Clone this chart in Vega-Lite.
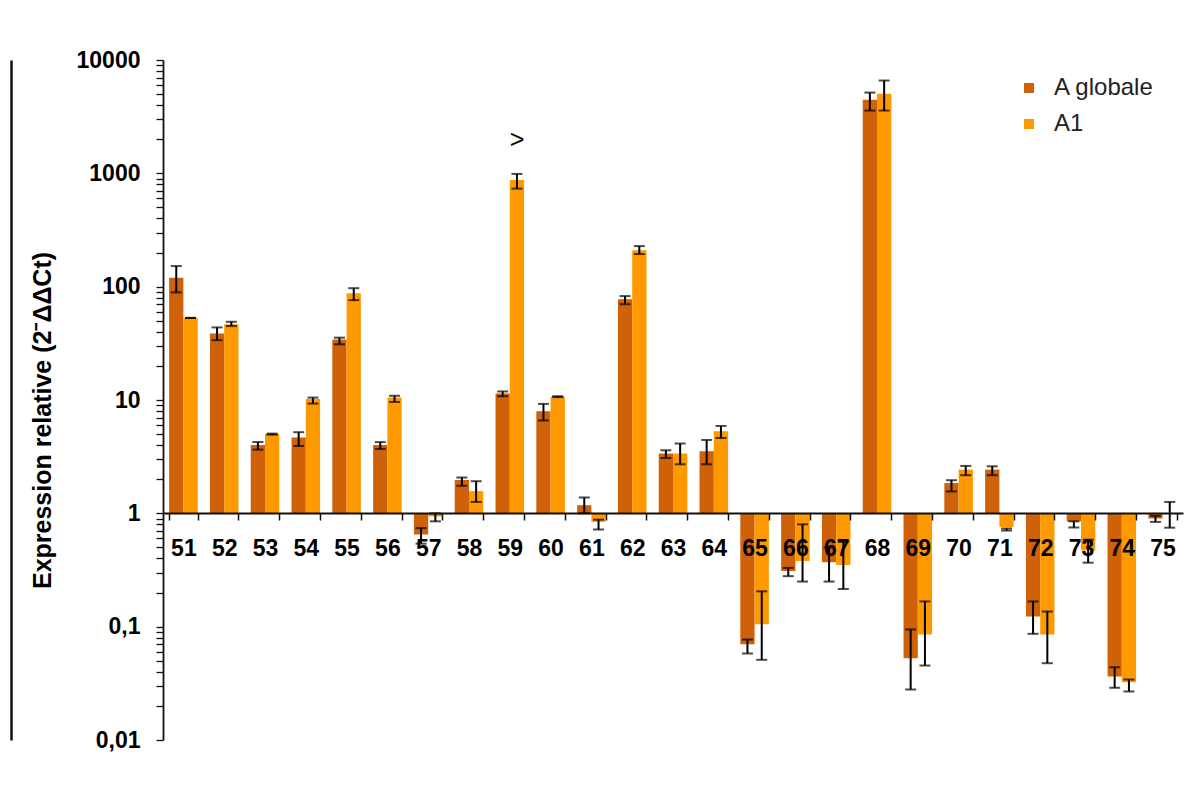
{
  "$schema": "https://vega.github.io/schema/vega-lite/v6.json",
  "autosize": {"type": "none"},
  "width": 1020,
  "height": 680,
  "padding": {"left": 163, "top": 60, "right": 5, "bottom": 47},
  "background": "white",
  "config": {
    "view": {"stroke": null},
    "font": "Liberation Sans"
  },
  "datasets": {
    "bars": [
      {"cat": "51", "series": "A globale", "value": 120, "lo": 89, "hi": 152},
      {"cat": "51", "series": "A1", "value": 53, "lo": 53, "hi": 53},
      {"cat": "52", "series": "A globale", "value": 38.7, "lo": 33.7, "hi": 43.7},
      {"cat": "52", "series": "A1", "value": 46.7, "lo": 44.9, "hi": 49},
      {"cat": "53", "series": "A globale", "value": 4.0, "lo": 3.65, "hi": 4.26},
      {"cat": "53", "series": "A1", "value": 5.0, "lo": 4.95, "hi": 5.05},
      {"cat": "54", "series": "A globale", "value": 4.66, "lo": 3.93, "hi": 5.2},
      {"cat": "54", "series": "A1", "value": 10.2, "lo": 9.3, "hi": 10.5},
      {"cat": "55", "series": "A globale", "value": 34.2, "lo": 31, "hi": 35.5},
      {"cat": "55", "series": "A1", "value": 87.4, "lo": 76, "hi": 97},
      {"cat": "56", "series": "A globale", "value": 4.0, "lo": 3.7, "hi": 4.25},
      {"cat": "56", "series": "A1", "value": 10.5, "lo": 9.6, "hi": 10.9},
      {"cat": "57", "series": "A globale", "value": 0.652, "lo": 0.54, "hi": 0.74},
      {"cat": "57", "series": "A1", "value": 0.94, "lo": 0.85, "hi": 1.0},
      {"cat": "58", "series": "A globale", "value": 1.97, "lo": 1.75, "hi": 2.07},
      {"cat": "58", "series": "A1", "value": 1.57, "lo": 1.26, "hi": 1.92},
      {"cat": "59", "series": "A globale", "value": 11.4, "lo": 10.8, "hi": 11.9},
      {"cat": "59", "series": "A1", "value": 873, "lo": 733, "hi": 988},
      {"cat": "60", "series": "A globale", "value": 7.96, "lo": 6.6, "hi": 9.24},
      {"cat": "60", "series": "A1", "value": 10.7, "lo": 10.6, "hi": 10.8},
      {"cat": "61", "series": "A globale", "value": 1.18, "lo": 1.0, "hi": 1.38},
      {"cat": "61", "series": "A1", "value": 0.84, "lo": 0.72, "hi": 0.88},
      {"cat": "62", "series": "A globale", "value": 77.3, "lo": 70, "hi": 82.6},
      {"cat": "62", "series": "A1", "value": 210, "lo": 194, "hi": 228},
      {"cat": "63", "series": "A globale", "value": 3.37, "lo": 3.08, "hi": 3.6},
      {"cat": "63", "series": "A1", "value": 3.37, "lo": 2.71, "hi": 4.13},
      {"cat": "64", "series": "A globale", "value": 3.53, "lo": 2.71, "hi": 4.44},
      {"cat": "64", "series": "A1", "value": 5.3, "lo": 4.62, "hi": 5.9},
      {"cat": "65", "series": "A globale", "value": 0.07, "lo": 0.058, "hi": 0.077},
      {"cat": "65", "series": "A1", "value": 0.105, "lo": 0.051, "hi": 0.205},
      {"cat": "66", "series": "A globale", "value": 0.31, "lo": 0.279, "hi": 0.33},
      {"cat": "66", "series": "A1", "value": 0.38, "lo": 0.25, "hi": 0.8},
      {"cat": "67", "series": "A globale", "value": 0.37, "lo": 0.25, "hi": 0.5},
      {"cat": "67", "series": "A1", "value": 0.35, "lo": 0.215, "hi": 0.56},
      {"cat": "68", "series": "A globale", "value": 4450, "lo": 3580, "hi": 5160},
      {"cat": "68", "series": "A1", "value": 5030, "lo": 3580, "hi": 6590},
      {"cat": "69", "series": "A globale", "value": 0.0527, "lo": 0.0279, "hi": 0.0945},
      {"cat": "69", "series": "A1", "value": 0.0853, "lo": 0.0454, "hi": 0.167},
      {"cat": "70", "series": "A globale", "value": 1.85, "lo": 1.56, "hi": 1.96},
      {"cat": "70", "series": "A1", "value": 2.43, "lo": 2.17, "hi": 2.62},
      {"cat": "71", "series": "A globale", "value": 2.43, "lo": 2.17, "hi": 2.6},
      {"cat": "71", "series": "A1", "value": 0.757, "lo": 0.705, "hi": 0.735},
      {"cat": "72", "series": "A globale", "value": 0.123, "lo": 0.0865, "hi": 0.167},
      {"cat": "72", "series": "A1", "value": 0.0853, "lo": 0.0476, "hi": 0.136},
      {"cat": "73", "series": "A globale", "value": 0.85, "lo": 0.75, "hi": 0.85},
      {"cat": "73", "series": "A1", "value": 0.47, "lo": 0.367, "hi": 0.585},
      {"cat": "74", "series": "A globale", "value": 0.0363, "lo": 0.0289, "hi": 0.0439},
      {"cat": "74", "series": "A1", "value": 0.0323, "lo": 0.0268, "hi": 0.0342},
      {"cat": "75", "series": "A globale", "value": 0.9, "lo": 0.84, "hi": 0.95},
      {"cat": "75", "series": "A1", "value": 1.0, "lo": 0.747, "hi": 1.26}
    ],
    "notes": [
      {"cat": "59", "series": "A1", "value": 1960, "label": ">"}
    ]
  },
  "encoding": {
    "x": {
      "field": "cat",
      "type": "nominal",
      "sort": null,
      "scale": {"paddingInner": 0.3, "paddingOuter": 0.15},
      "axis": {
        "title": null,
        "orient": "bottom",
        "offset": -227,
        "zindex": 1,
        "tickBand": "extent",
        "tickSize": 7,
        "tickWidth": 1.5,
        "tickColor": "#111",
        "domainColor": "#111",
        "domainWidth": 1.8,
        "labelAngle": 0,
        "labelFont": "Liberation Sans",
        "labelFontSize": 23,
        "labelFontWeight": "bold",
        "labelColor": "black",
        "labelPadding": 17
      }
    },
    "xOffset": {
      "field": "series",
      "type": "nominal",
      "scale": {"domain": ["A globale", "A1"], "paddingInner": 0, "paddingOuter": 0}
    }
  },
  "layer": [
    {
      "layer": [
        {
          "data": {"name": "bars"},
          "mark": {"type": "bar"},
          "encoding": {
            "y": {
              "field": "value",
              "type": "quantitative",
              "scale": {"type": "log", "domain": [0.01, 10000], "nice": false},
              "axis": {
                "title": "Expression relative (2⁻ΔΔCt)",
                "titleFont": "Liberation Sans",
                "titleFontSize": 25,
                "titleFontWeight": "bold",
                "titleColor": "black",
                "titlePadding": 21,
                "titleY": 360,
                "grid": false,
                "values": [0.01,0.02,0.03,0.04,0.05,0.06,0.07,0.08,0.09,0.1,0.2,0.3,0.4,0.5,0.6,0.7,0.8,0.9,1,2,3,4,5,6,7,8,9,10,20,30,40,50,60,70,80,90,100,200,300,400,500,600,700,800,900,1000,2000,3000,4000,5000,6000,7000,8000,9000,10000],
                "labelExpr": "datum.value == 0.01 ? '0,01' : datum.value == 0.1 ? '0,1' : indexof([1,10,100,1000,10000], datum.value) >= 0 ? format(datum.value, 'd') : ''",
                "labelOverlap": false,
                "labelFlush": false,
                "labelFont": "Liberation Sans",
                "labelFontSize": 23,
                "labelFontWeight": "bold",
                "labelColor": "black",
                "labelPadding": 16,
                "tickSize": 7,
                "tickWidth": 1.3,
                "tickColor": "#111",
                "domainColor": "#111",
                "domainWidth": 1.8
              }
            },
            "y2": {"datum": 1},
            "color": {
              "field": "series",
              "type": "nominal",
              "scale": {"domain": ["A globale", "A1"], "range": ["#CF6208", "#FF9900"]},
              "legend": {
                "title": null,
                "orient": "none",
                "legendX": 854,
                "legendY": 16,
                "padding": 0,
                "symbolType": "square",
                "symbolSize": 100,
                "symbolStrokeWidth": 0,
                "labelFont": "Liberation Sans",
                "labelFontSize": 24,
                "labelColor": "#222",
                "labelOffset": 13,
                "rowPadding": 12
              }
            }
          }
        },
        {
          "data": {"name": "bars"},
          "mark": {"type": "rule", "color": "black", "strokeWidth": 2},
          "encoding": {
            "y": {"field": "lo", "type": "quantitative"},
            "y2": {"field": "hi"}
          }
        },
        {
          "data": {"name": "bars"},
          "mark": {"type": "tick", "orient": "horizontal", "color": "black", "size": 11, "thickness": 2},
          "encoding": {
            "y": {"field": "lo", "type": "quantitative"}
          }
        },
        {
          "data": {"name": "bars"},
          "mark": {"type": "tick", "orient": "horizontal", "color": "black", "size": 11, "thickness": 2},
          "encoding": {
            "y": {"field": "hi", "type": "quantitative"}
          }
        }
      ]
    },
    {
      "data": {"name": "notes"},
      "mark": {"type": "text", "font": "Liberation Sans", "fontSize": 25, "color": "black", "baseline": "middle"},
      "encoding": {
        "y": {
          "field": "value",
          "type": "quantitative",
          "scale": {"type": "log", "domain": [0.01, 10000], "nice": false},
          "axis": {
            "orient": "left",
            "offset": 152,
            "title": null,
            "labels": false,
            "ticks": false,
            "grid": false,
            "domainColor": "#111",
            "domainWidth": 2.5
          }
        },
        "text": {"field": "label"}
      }
    }
  ],
  "resolve": {"scale": {"y": "independent"}}
}
